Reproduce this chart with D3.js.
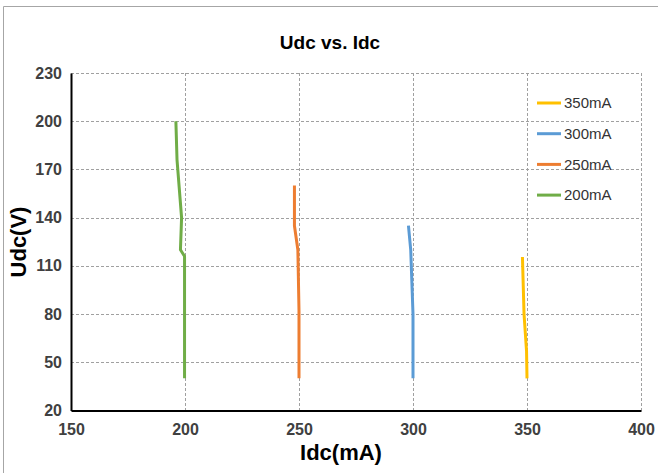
<!DOCTYPE html>
<html>
<head>
<meta charset="utf-8">
<script src="https://cdn.jsdelivr.net/npm/d3@7"></script>
<style>
  body { margin: 0; background: #fff; }
  svg { display: block; font-family: "Liberation Sans Narrow", "Arial Narrow", "Liberation Sans", Arial, sans-serif; }
</style>
</head>
<body>
<div id="chart"></div>
<script>
const xTicks = [150, 200, 250, 300, 350, 400];
const yTicks = [20, 50, 80, 110, 140, 170, 200, 230];

const seriesNames = ["350mA", "300mA", "250mA", "200mA"];
const seriesColors = ["#FFC000", "#5B9BD5", "#ED7D31", "#70AD47"];

// Idc (mA), Udc (V)
const idc350 = [348, 348.7, 349.8, 350];
const udc350 = [115.5, 80, 57, 40];
const idc300 = [298, 299, 300, 300];
const udc300 = [135, 120, 80, 40];
const idc250 = [248, 248, 249.5, 250, 250];
const udc250 = [160, 135, 120, 82, 40];
const idc200 = [196, 196.5, 198.5, 198, 199.8, 199.8];
const udc200 = [200, 176, 140, 120, 116, 40];

const seriesX = [idc350, idc300, idc250, idc200];
const seriesY = [udc350, udc300, udc250, udc200];

const width = 658, height = 473;
const svg = d3.select("#chart").append("svg")
  .attr("width", width)
  .attr("height", height);

// outer frame (top + left edge visible)
svg.append("path")
  .attr("d", "M3.5,473 V6.5 H658")
  .attr("fill", "none")
  .attr("stroke", "#a6a6a6")
  .attr("stroke-width", 1);

const x = d3.scaleLinear().domain([150, 400]).range([71, 641]);
const y = d3.scaleLinear().domain([20, 230]).range([410.5, 73]);

// grid
svg.append("g").selectAll("line")
  .data(xTicks.slice(1))
  .enter().append("line")
  .attr("x1", d => Math.round(x(d)) + 0.5)
  .attr("x2", d => Math.round(x(d)) + 0.5)
  .attr("y1", y(230)).attr("y2", y(20))
  .attr("stroke", "#a0a0a0")
  .attr("stroke-dasharray", "3,2");

svg.append("g").selectAll("line")
  .data(yTicks.slice(1))
  .enter().append("line")
  .attr("x1", x(150)).attr("x2", x(400))
  .attr("y1", d => Math.round(y(d)) + 0.5)
  .attr("y2", d => Math.round(y(d)) + 0.5)
  .attr("stroke", "#a0a0a0")
  .attr("stroke-dasharray", "3,2");

// axes
const xAxis = svg.append("g")
  .attr("transform", `translate(0,${y(20)})`)
  .call(d3.axisBottom(x).tickValues(xTicks).tickSize(0).tickPadding(13));
const yAxis = svg.append("g")
  .attr("transform", `translate(${x(150)},0)`)
  .call(d3.axisLeft(y).tickValues(yTicks).tickSize(0).tickPadding(9));

[xAxis, yAxis].forEach(a => {
  a.select(".domain").attr("stroke", "#000").attr("stroke-width", 2);
  a.selectAll("text")
    .attr("fill", "#404040")
    .style("font-size", "16px")
    .style("font-weight", "bold")
    .style("font-family", null);
});

// series
const line = d3.line().x(d => x(d[0])).y(d => y(d[1]));
seriesNames.forEach((name, i) => {
  const pts = seriesX[i].map((v, j) => [v, seriesY[i][j]]);
  svg.append("path")
    .datum(pts)
    .attr("d", line)
    .attr("fill", "none")
    .attr("stroke", seriesColors[i])
    .attr("stroke-width", 3)
    .attr("stroke-linejoin", "round");
});

// title and axis titles
svg.append("text")
  .attr("x", 330).attr("y", 49)
  .attr("text-anchor", "middle")
  .style("font-size", "19px").style("font-weight", "bold")
  .text("Udc vs. Idc");

svg.append("text")
  .attr("x", 341).attr("y", 460)
  .attr("text-anchor", "middle")
  .style("font-size", "22px").style("font-weight", "bold")
  .text("Idc(mA)");

svg.append("text")
  .attr("transform", "translate(26,242) rotate(-90)")
  .attr("text-anchor", "middle")
  .style("font-size", "22px").style("font-weight", "bold")
  .text("Udc(V)");

// legend
const legend = svg.append("g").selectAll("g")
  .data(seriesNames)
  .enter().append("g")
  .attr("transform", (d, i) => `translate(537,${103 + i * 30.7})`);
legend.append("line")
  .attr("x1", 0).attr("x2", 24)
  .attr("stroke", (d, i) => seriesColors[i])
  .attr("stroke-width", 3);
legend.append("text")
  .attr("x", 27).attr("dy", "0.35em")
  .attr("fill", "#333")
  .style("font-size", "15px")
  .text(d => d);
</script>
</body>
</html>
